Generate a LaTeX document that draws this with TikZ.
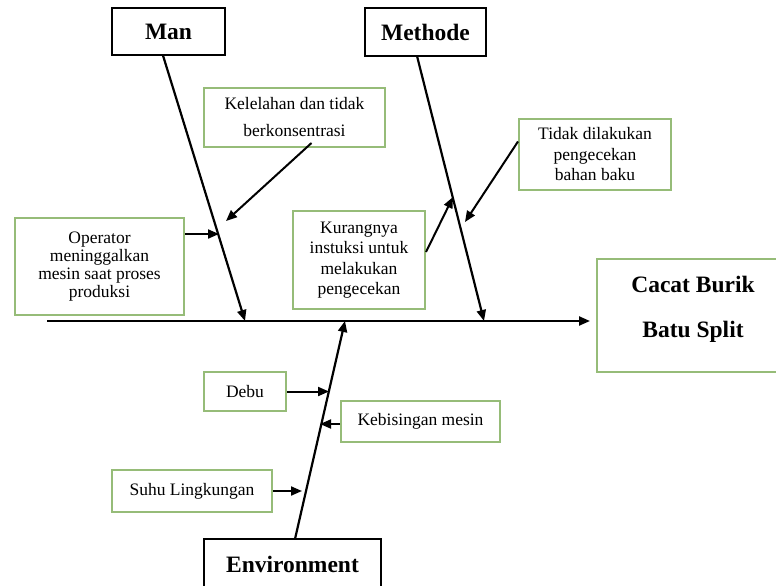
\documentclass[tikz,border=0pt]{standalone}
\usepackage{fontspec}
\setmainfont{Liberation Serif}
\usetikzlibrary{arrows.meta,calc}
\definecolor{boxgreen}{RGB}{150,188,120}
\begin{document}
\begin{tikzpicture}[x=1pt,y=-1pt,
  catbox/.style={draw=black,line width=2pt,fill=white,inner sep=0pt,
    font=\fontsize{23.5}{26}\selectfont\bfseries},
  causebox/.style={draw=boxgreen,line width=2pt,inner sep=0pt,align=center,
    font=\fontsize{17.5}{18.5}\selectfont},
  bone/.style={line width=2.2pt,-{Triangle[length=11pt,width=9pt]}},
  twig/.style={line width=2pt,-{Triangle[length=11pt,width=9pt]}}]
\useasboundingbox (0,0) rectangle (776,586);
\fill[white] (0,0) rectangle (776,586);

% category boxes
\node[catbox,minimum width=113pt,minimum height=47pt] (man) at (168.5,31.5) {Man};
\node[catbox,minimum width=121pt,minimum height=48pt] (methode) at (425.5,32) {Methode};
\node[catbox,minimum width=177pt,minimum height=50pt] (env) at (292.5,564) {Environment};

% effect box
\node[draw=boxgreen,line width=2pt,minimum width=195pt,minimum height=113pt,inner sep=0pt] (effect) at (694.5,315.5) {};
\node[align=center,font=\fontsize{23.5}{45}\selectfont\bfseries] (effecttext) at (693,309) {Cacat Burik\\Batu Split};

% cause boxes
\node[causebox,minimum width=181pt,minimum height=59pt,font=\fontsize{17.5}{28}\selectfont] (kel) at (294.5,117.5) {Kelelahan dan tidak\\[-1pt]berkonsentrasi};
\node[causebox,minimum width=169pt,minimum height=97pt,font=\fontsize{17.5}{18}\selectfont] (oper) at (99.5,266.5) {Operator\\meninggalkan\\mesin saat proses\\produksi};
\node[causebox,minimum width=132pt,minimum height=98pt,font=\fontsize{17.5}{20.5}\selectfont] (kur) at (359,260) {Kurangnya\\instuksi untuk\\melakukan\\pengecekan};
\node[causebox,minimum width=152pt,minimum height=71pt,font=\fontsize{17.5}{20.5}\selectfont] (tidak) at (595,154.5) {Tidak dilakukan\\pengecekan\\bahan baku};
\node[causebox,minimum width=82pt,minimum height=39pt] (debu) at (245,391.5) {Debu};
\node[causebox,minimum width=159pt,minimum height=41pt] (kebis) at (420.5,421.5) {Kebisingan mesin};
\node[causebox,minimum width=160pt,minimum height=42pt] (suhu) at (192,491) {Suhu Lingkungan};

% spine coordinates
\coordinate (tail) at (47,321);
\coordinate (head) at (590,321);
\coordinate (manS) at (163,55.5);
\coordinate (manE) at (245,321);
\coordinate (metS) at (417,56);
\coordinate (metE) at (484,321);
\coordinate (envS) at (295,539);
\coordinate (envE) at (345,321);

% main spine and bones
\draw[bone] (tail) -- (head);
\draw[bone] (manS) -- (manE);
\draw[bone] (metS) -- (metE);
\draw[bone] (envS) -- (envE);

% twig arrows
\coordinate (kelT) at (226,221);
\coordinate (operT) at (219,234);
\coordinate (kurT) at (453,197);
\coordinate (tidakT) at (465,222);
\coordinate (debuT) at (329,391.5);
\coordinate (kebisT) at (320,424);
\coordinate (suhuT) at (302,491);

\draw[twig] ($(kel.south)+(17,-5)$) -- (kelT);
\draw[twig] (oper.east |- operT) -- (operT);
\draw[twig] ($(kur.east)+(0,-8)$) -- (kurT);
\draw[twig] ($(tidak.west)+(0,-13)$) -- (tidakT);
\draw[twig] (debu.east) -- (debuT);
\draw[twig] (kebis.west |- kebisT) -- (kebisT);
\draw[twig] (suhu.east) -- (suhuT);
\end{tikzpicture}
\end{document}
